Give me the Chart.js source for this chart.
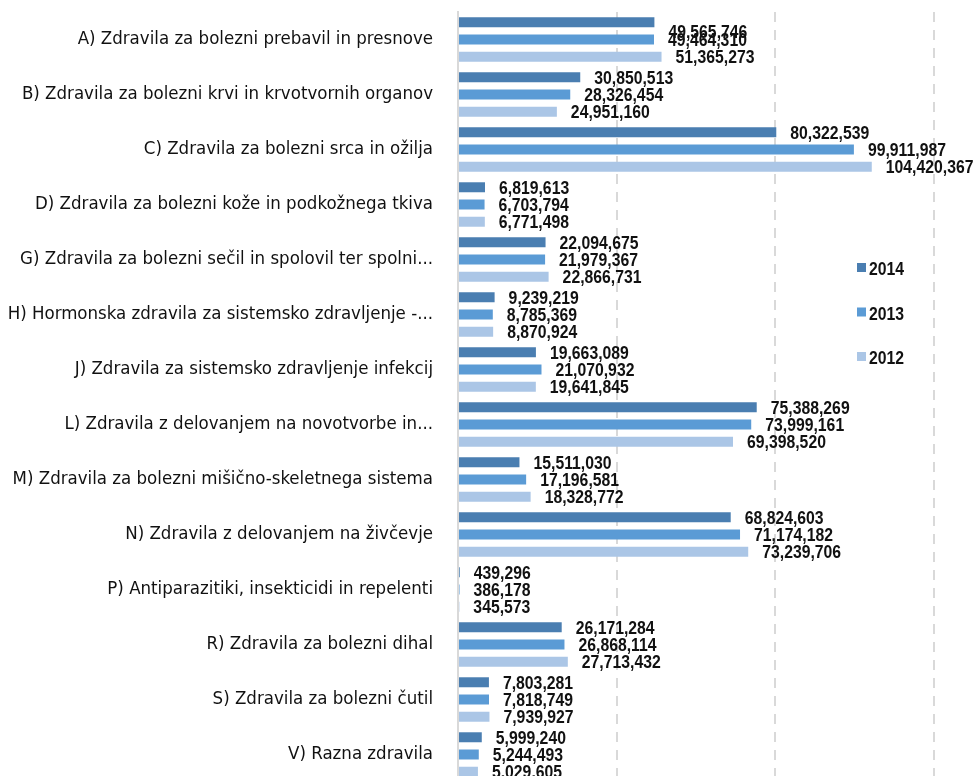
<!DOCTYPE html>
<html>
<head>
<meta charset="utf-8">
<script src="https://cdn.jsdelivr.net/npm/chart.js@4.4.1/dist/chart.umd.min.js"></script>
<style>
  html, body { margin: 0; padding: 0; background: #fff; overflow: hidden; }
  #wrap { position: absolute; left: 0; top: 0; width: 1100px; height: 790px; }
</style>
</head>
<body>
<div id="wrap"><canvas id="chart" width="1100" height="790"></canvas></div>
<script>
// categories (top to bottom)
const categories = [
  "A) Zdravila za bolezni prebavil in presnove",
  "B) Zdravila za bolezni krvi in krvotvornih organov",
  "C) Zdravila za bolezni srca in ožilja",
  "D) Zdravila za bolezni kože in podkožnega tkiva",
  "G) Zdravila za bolezni sečil in spolovil ter spolni...",
  "H) Hormonska zdravila za sistemsko zdravljenje -...",
  "J) Zdravila za sistemsko zdravljenje infekcij",
  "L) Zdravila z delovanjem na novotvorbe in...",
  "M) Zdravila za bolezni mišično-skeletnega sistema",
  "N) Zdravila z delovanjem na živčevje",
  "P) Antiparazitiki, insekticidi in repelenti",
  "R) Zdravila za bolezni dihal",
  "S) Zdravila za bolezni čutil",
  "V) Razna zdravila"
];

const years = ["2014", "2013", "2012"];

const values2014 = [49565746, 30850513, 80322539, 6819613, 22094675, 9239219, 19663089,
  75388269, 15511030, 68824603, 439296, 26171284, 7803281, 5999240];
const values2013 = [49464310, 28326454, 99911987, 6703794, 21979367, 8785369, 21070932,
  73999161, 17196581, 71174182, 386178, 26868114, 7818749, 5244493];
const values2012 = [51365273, 24951160, 104420367, 6771498, 22866731, 8870924, 19641845,
  69398520, 18328772, 73239706, 345573, 27713432, 7939927, 5029605];

const xTicks = [0, 40000000, 80000000, 120000000, 160000000];

const colors = ["#4a7eb1", "#5b9bd5", "#abc6e6"];
const labelFont = "bold 19px 'Liberation Sans', Arial, sans-serif";
const squeeze = 0.83; // narrow look of the original labels

function narrowText(ctx, text, x, y) {
  ctx.save();
  ctx.translate(x, y);
  ctx.scale(squeeze, 1);
  ctx.fillText(text, 0, 0);
  ctx.restore();
}

// data labels to the right of each bar
const barLabels = {
  id: "barLabels",
  afterDatasetsDraw(chart) {
    const ctx = chart.ctx;
    ctx.save();
    ctx.font = labelFont;
    ctx.fillStyle = "#111";
    ctx.textAlign = "left";
    ctx.textBaseline = "middle";
    chart.data.datasets.forEach((ds, di) => {
      chart.getDatasetMeta(di).data.forEach((bar, i) => {
        let dy = 1.5;
        if (di === 0 && i === 0) dy = 10; // overlapping label in the original
        narrowText(ctx, ds.data[i].toLocaleString("en-US"), bar.x + 14, bar.y + dy);
      });
    });
    ctx.restore();
  }
};

// legend drawn over the plot area
const sideLegend = {
  id: "sideLegend",
  afterDraw(chart) {
    const ctx = chart.ctx;
    ctx.save();
    ctx.font = labelFont;
    ctx.textAlign = "left";
    ctx.textBaseline = "middle";
    chart.data.datasets.forEach((ds, di) => {
      const y = 268 + di * 44.5;
      ctx.fillStyle = ds.backgroundColor;
      ctx.fillRect(857, y - 5, 9, 9);
      ctx.fillStyle = "#111";
      narrowText(ctx, ds.label, 869, y + 2);
    });
    ctx.restore();
  }
};

new Chart(document.getElementById("chart"), {
  type: "bar",
  data: {
    labels: categories,
    datasets: [
      { label: years[0], data: values2014, backgroundColor: colors[0] },
      { label: years[1], data: values2013, backgroundColor: colors[1] },
      { label: years[2], data: values2012, backgroundColor: colors[2] }
    ]
  },
  options: {
    indexAxis: "y",
    responsive: false,
    animation: false,
    categoryPercentage: 0.94,
    barPercentage: 0.58,
    layout: { padding: { top: 12, right: 8, bottom: 8, left: 0 } },
    plugins: {
      legend: { display: false },
      tooltip: { enabled: false }
    },
    scales: {
      x: {
        min: xTicks[0],
        max: xTicks[xTicks.length - 1],
        afterBuildTicks(scale) {
          scale.ticks = xTicks.map(v => ({ value: v }));
        },
        afterFit(scale) {
          scale.height = 0;
          scale.paddingLeft = 0;
          scale.paddingRight = 0;
        },
        ticks: { display: false },
        grid: {
          color: ctx => (ctx.tick && ctx.tick.value === 0 ? "rgba(0,0,0,0)" : "#d9d9d9"),
          lineWidth: 2,
          drawTicks: false
        },
        border: { display: false, dash: [10, 8] }
      },
      y: {
        afterFit(scale) {
          scale.width = 458;
          scale.paddingTop = 0;
          scale.paddingBottom = 0;
        },
        ticks: {
          padding: 25,
          color: "#111",
          font: { family: "'DejaVu Sans Condensed', sans-serif", size: 18.5 }
        },
        grid: { display: false, drawTicks: false },
        border: { display: true, color: "#d9d9d9", width: 2 }
      }
    }
  },
  plugins: [barLabels, sideLegend]
});
</script>
</body>
</html>
